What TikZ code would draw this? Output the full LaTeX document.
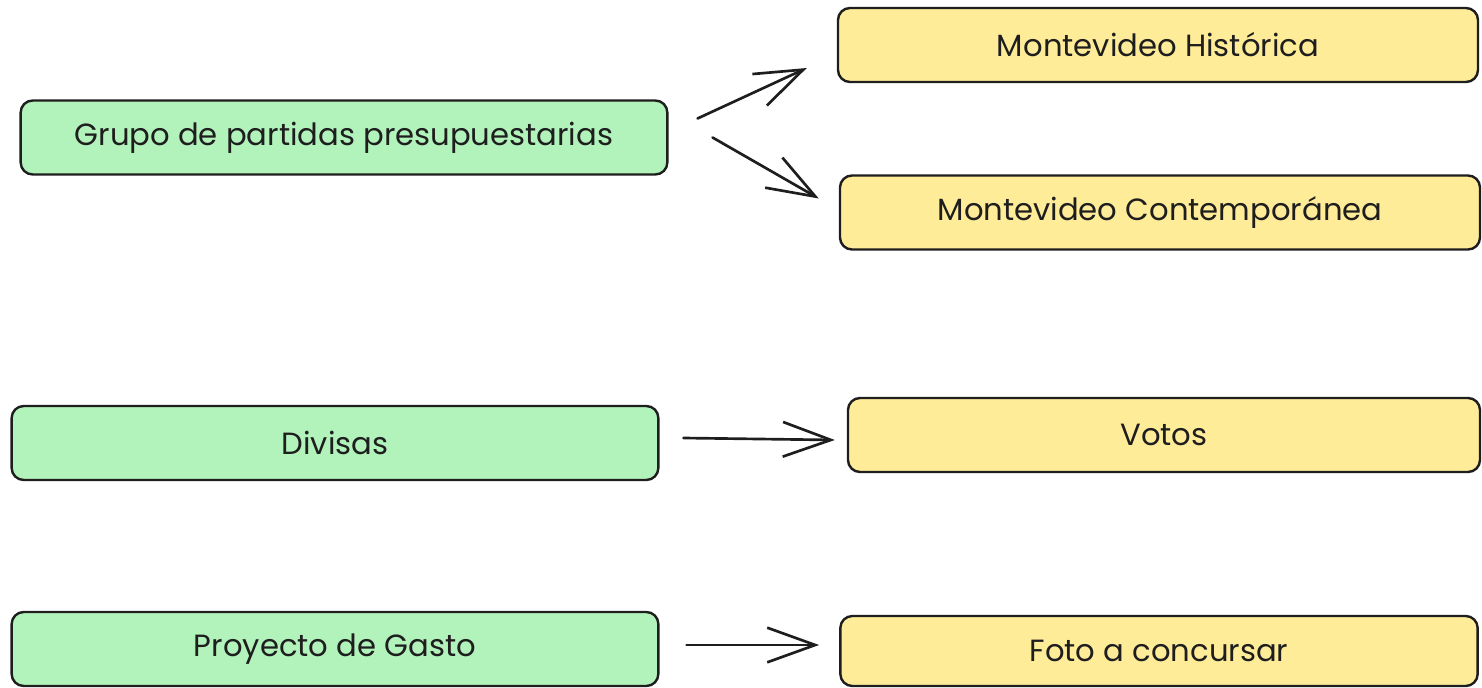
\documentclass[tikz,border=0pt]{standalone}
\usepackage{fontspec}
\setmainfont{Poppins}
\usetikzlibrary{arrows.meta}

\definecolor{greenfill}{RGB}{178,242,187}
\definecolor{yellowfill}{RGB}{255,236,153}
\definecolor{inkdark}{RGB}{30,30,30}

\tikzset{every picture/.style={line width=0.75pt}}
\tikzset{
  greenbox/.style={draw=inkdark, fill=greenfill, rounded corners=9pt, line width=1.8pt,
    minimum width=485pt, minimum height=55.5pt, text=inkdark,
    font=\fontsize{23}{27}\selectfont},
  yellowbox/.style={greenbox, fill=yellowfill},
  flow/.style={draw=inkdark, line width=2pt, line cap=round,
    -{Straight Barb[length=36pt, width=26pt, line width=2pt]}}
}

\begin{document}
\begin{tikzpicture}[x=0.75pt,y=0.75pt,yscale=-1,xscale=1]
	\useasboundingbox (0,0) rectangle (1482,688);

	%Shape: Rectangle [id:grupo]
	\node [greenbox] (grupo) at (344,137.5) {Grupo de partidas presupuestarias};
	%Shape: Rectangle [id:divisas]
	\node [greenbox] (divisas) at (335,443) {Divisas};
	%Shape: Rectangle [id:proyecto]
	\node [greenbox] (proyecto) at (335,649) {Proyecto de Gasto};

	%Shape: Rectangle [id:historica]
	\node [yellowbox, minimum width=480pt] (historica) at (1158,45) {Montevideo Histórica};
	%Shape: Rectangle [id:contemporanea]
	\node [yellowbox, minimum width=480pt] (contemporanea) at (1160,212.5) {Montevideo Contemporánea};
	%Shape: Rectangle [id:votos]
	\node [yellowbox, minimum width=474pt] (votos) at (1164,435) {Votos};
	%Shape: Rectangle [id:foto]
	\node [yellowbox, minimum width=478pt, minimum height=52.5pt] (foto) at (1159,651) {Foto a concursar};

	%Straight Lines [id:grupo-historica]
	\draw [flow] ([shift={(29,-19)}]grupo.east) -- ([shift={(-30,23)}]historica.west);
	%Straight Lines [id:grupo-contemporanea]
	\draw [flow] ([shift={(44,0)}]grupo.east) -- ([shift={(-20,-14)}]contemporanea.west);
	%Straight Lines [id:divisas-votos]
	\draw [flow] ([shift={(24,-5)}]divisas.east) -- ([shift={(-12,5)}]votos.west);
	%Straight Lines [id:proyecto-foto]
	\draw [flow] ([shift={(27,-4)}]proyecto.east) -- ([shift={(-20,-6)}]foto.west);

\end{tikzpicture}
\end{document}
